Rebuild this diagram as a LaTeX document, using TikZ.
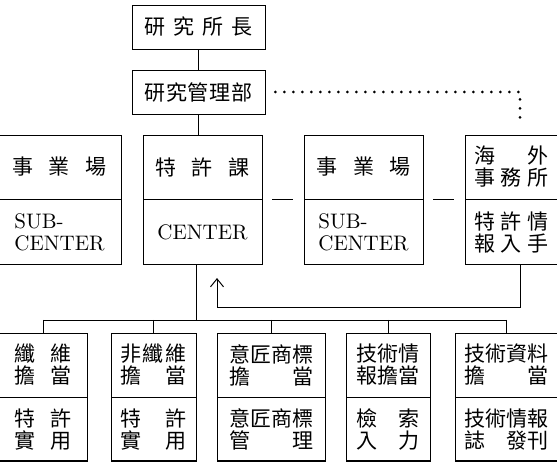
\documentclass[tikz,border=0pt]{standalone}
\usepackage{fontspec}
\newfontfamily\cjk{Noto Sans CJK TC}
\newfontfamily\lat[Extension=.otf]{lmroman10-regular}
\usepackage{tikz}
\usetikzlibrary{arrows.meta}
\usetikzlibrary{positioning}
\newcommand\jl[2]{\makebox[#1]{#2}}

\begin{document}
\begin{tikzpicture}[x=1pt, y=-1pt, line width=0.7pt,
    >={Straight Barb[length=8pt,width=13pt,line width=1pt]},
    orgbox/.style = {rectangle, draw=black, inner sep=0pt,
                     minimum height=64pt, align=center,
                     font=\cjk\fontsize{21}{22}\selectfont},
    latin/.style = {font=\lat\fontsize{21}{22}\selectfont, align=left},
    cutbox/.style = {rectangle, draw=black, inner sep=0pt, minimum height=40pt},
    dots/.style = {line width=3pt, line cap=round, dash pattern=on 0pt off 9pt}]
  \path[use as bounding box] (0,0) rectangle (557,462);
  \clip (0,0) rectangle (557,462);

  \node (head) [orgbox, minimum width=133pt, minimum height=44pt] at (198.5,27)
    {\jl{108pt}{研\hfill 究\hfill 所\hfill 長}};
  \node (mgmt) [orgbox, minimum width=133pt, minimum height=44pt] at (198.5,92)
    {\jl{108pt}{研\hfill 究\hfill 管\hfill 理\hfill 部}};

  \node (plant) [orgbox, minimum width=124pt] at (59.5,167)
    {\jl{94pt}{事\hfill 業\hfill 場}};
  \node (patent) [orgbox, minimum width=119pt] at (202.5,167)
    {\jl{94pt}{特\hfill 許\hfill 課}};
  \node (plantb) [orgbox, minimum width=119pt] at (363.5,167)
    {\jl{94pt}{事\hfill 業\hfill 場}};
  \node (abroad) [orgbox, minimum width=93pt] at (511.5,167)
    {\jl{75pt}{海\hfill 外}\\ \jl{75pt}{事\hfill 務\hfill 所}};

  \node (plantsub) [orgbox, latin, minimum width=124pt, minimum height=65pt,
    below=0pt of plant] {SUB-\\CENTER};
  \node (center) [orgbox, latin, minimum width=119pt, minimum height=65pt,
    below=0pt of patent] {CENTER};
  \node (plantbsub) [orgbox, latin, minimum width=119pt, minimum height=65pt,
    below=0pt of plantb] {SUB-\\CENTER};
  \node (intake) [orgbox, minimum width=93pt, minimum height=65pt,
    below=0pt of abroad]
    {\jl{75pt}{特\hfill 許\hfill 情}\\ \jl{75pt}{報\hfill 入\hfill 手}};

  % bottom row
  \node (fibre) [orgbox, minimum width=88pt] at (43,365)
    {\jl{57pt}{纖\hfill 維}\\ \jl{57pt}{擔\hfill 當}};
  \node (nonfib) [orgbox, minimum width=85pt] at (153.5,365)
    {\jl{66pt}{非\hfill 纖\hfill 維}\\ \jl{66pt}{擔\hfill 當}};
  \node (design) [orgbox, minimum width=108pt] at (271,365)
    {\jl{84pt}{意\hfill 匠\hfill 商\hfill 標}\\ \jl{84pt}{擔\hfill 當}};
  \node (info) [orgbox, minimum width=84pt] at (388,365)
    {\jl{63pt}{技\hfill 術\hfill 情}\\ \jl{63pt}{報\hfill 擔\hfill 當}};
  \node (docs) [orgbox, minimum width=103pt] at (506.5,365)
    {\jl{84pt}{技\hfill 術\hfill 資\hfill 料}\\ \jl{84pt}{擔\hfill 當}};

  \node (fibreuse) [orgbox, minimum width=88pt, minimum height=63pt, below=0pt of fibre]
    {\jl{57pt}{特\hfill 許}\\ \jl{57pt}{實\hfill 用}};
  \node (nonfibuse) [orgbox, minimum width=85pt, minimum height=63pt, below=0pt of nonfib]
    {\jl{66pt}{特\hfill 許}\\ \jl{66pt}{實\hfill 用}};
  \node (designmgmt) [orgbox, minimum width=108pt, minimum height=63pt, below=0pt of design]
    {\jl{84pt}{意\hfill 匠\hfill 商\hfill 標}\\ \jl{84pt}{管\hfill 理}};
  \node (search) [orgbox, minimum width=84pt, minimum height=63pt, below=0pt of info]
    {\jl{63pt}{檢\hfill 索}\\ \jl{63pt}{入\hfill 力}};
  \node (journal) [orgbox, minimum width=103pt, minimum height=63pt, below=0pt of docs]
    {\jl{84pt}{技\hfill 術\hfill 情\hfill 報}\\ \jl{84pt}{誌\hfill 發刊}};

  \foreach \n/\w in {fibreuse/88, nonfibuse/85, designmgmt/108, search/84, journal/103}
    \node (\n cut) [cutbox, minimum width=\w pt, below=0pt of \n] {};

  \coordinate (bus) at (196,320);

  \path[draw]
    (head) edge (mgmt)
    (mgmt.south) edge (mgmt.south |- patent.north)
    (center.south -| bus) edge (bus)
    (fibre.north |- bus) edge (docs.north |- bus);
  \foreach \n in {fibre,nonfib,design,info,docs}
    \draw (\n.north |- bus) -- (\n.north);

  \path[draw, shorten <=10pt, shorten >=11pt]
    (patent.south east) edge (plantb.south west)
    (plantb.south east) edge (abroad.south west);

  \draw[dots, shorten >=13pt] ([xshift=10pt]mgmt.east) -| ([xshift=8.5pt]abroad.north);

  \draw[->, shorten >=13pt] ([xshift=8.5pt]intake.south) -- ++(0,42)
    -| ([xshift=14.5pt]center.south);
\end{tikzpicture}
\end{document}
